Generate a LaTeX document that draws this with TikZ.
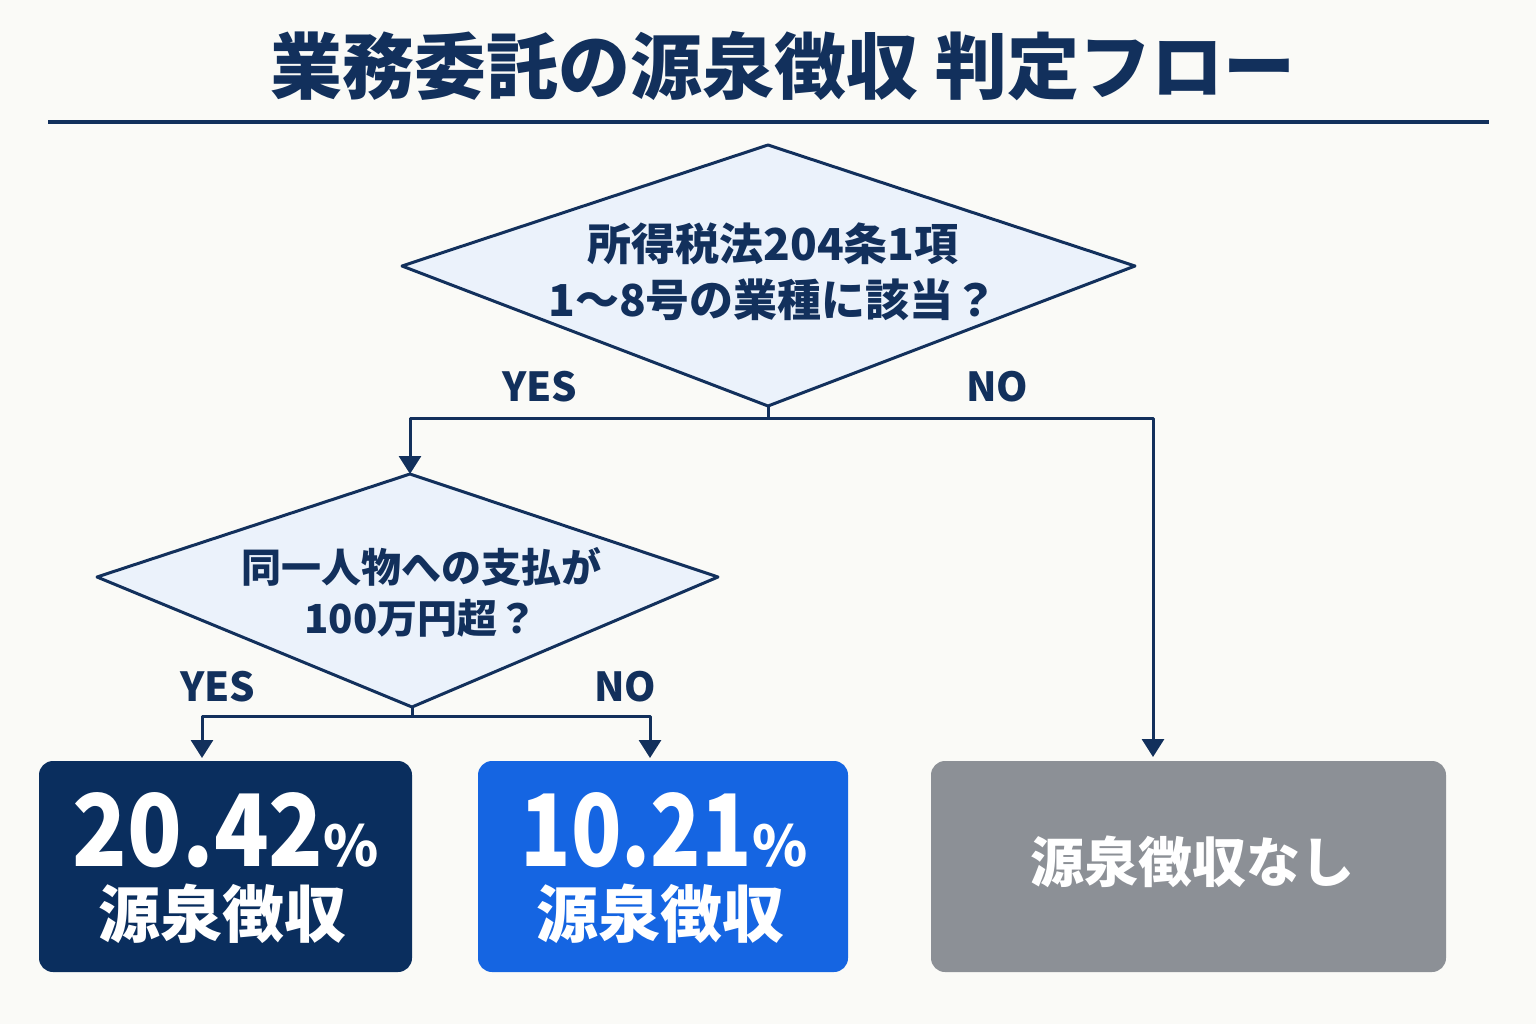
\documentclass[tikz,border=0pt]{standalone}
\usepackage{fontspec}
\setmainfont{Noto Sans CJK JP}
\usetikzlibrary{arrows.meta}
\definecolor{bgc}{HTML}{FAFAF7}
\definecolor{navy}{HTML}{12305C}
\definecolor{dfill}{HTML}{EBF2FB}
\definecolor{boxnavy}{HTML}{0A2E5E}
\definecolor{boxblue}{HTML}{1565E2}
\definecolor{boxgray}{HTML}{8C9096}
\tikzset{
  decision/.style={draw=navy,fill=dfill,line width=3pt,line join=round},
  qtext/.style={text=navy,font=\bfseries\fontsize{44}{56}\selectfont,align=center},
  yn/.style={text=navy,font=\bfseries\fontsize{40}{40}\selectfont},
  result/.style={rounded corners=14pt,inner sep=0pt},
  conn/.style={draw=navy,line width=3pt,line join=round},
  arr/.style={conn,-{Triangle[width=22pt,length=18pt]}},
  bignum/.style={text=white,font=\bfseries\fontsize{100}{100}\selectfont,inner sep=0pt},
  subtext/.style={text=white,font=\bfseries\fontsize{62}{62}\selectfont,inner sep=0pt},
}
\begin{document}
\begin{tikzpicture}[x=1pt,y=-1pt]
\fill[bgc] (0,0) rectangle (1536,1024);
\useasboundingbox (0,0) rectangle (1536,1024);
% title
\node[text=navy,font=\bfseries\fontsize{72}{72}\selectfont] (title) at (783,66) {業務委託の源泉徴収 判定フロー};
\coordinate (rl) at (48,122);
\coordinate (rr) at (1489,122);
\draw[navy,line width=3.5pt] (rl) -- (rr);
% decision 1
\coordinate (d1top) at (768,145);
\coordinate (d1left) at (402,266);
\coordinate (d1right) at (1135,266);
\coordinate (d1bot) at (768,406);
\path[decision] (d1top) -- (d1right) -- (d1bot) -- (d1left) -- cycle;
\node[qtext] (d1t) at (773,272) {所得税法204条1項\\1～8号の業種に該当？};
% decision 2
\coordinate (d2top) at (410,474);
\coordinate (d2left) at (97,577);
\coordinate (d2right) at (718,577);
\coordinate (d2bot) at (412,707);
\path[decision] (d2top) -- (d2right) -- (d2bot) -- (d2left) -- cycle;
\node[qtext,font=\bfseries\fontsize{40}{51}\selectfont] (d2t) at (421,592) {同一人物への支払が\\100万円超？};
% result boxes
\node[result,fill=boxnavy,minimum width=373pt,minimum height=211pt] (r1) at (225.5,866.5) {};
\node[result,fill=boxblue,minimum width=370pt,minimum height=211pt] (r2) at (663,866.5) {};
\node[result,fill=boxgray,minimum width=515pt,minimum height=211pt] (r3) at (1188.5,866.5) {};
\node[bignum] (r1a) at (226,830) {\scalebox{0.9}[1]{20.42}{\fontsize{56}{56}\selectfont\%}};
\node[subtext] (r1b) at (222,914) {源泉徴収};
\node[bignum] (r2a) at (664,830) {\scalebox{0.83}[1]{10.21}{\fontsize{56}{56}\selectfont\%}};
\node[subtext] (r2b) at (660,914) {源泉徴収};
\node[text=white,font=\bfseries\fontsize{54}{54}\selectfont,inner sep=0pt] (r3a) at (1192,862) {源泉徴収なし};
% connectors level 1
\coordinate (j1) at (768,418);
\coordinate (a1) at (1153,757);
\draw[conn] (d1bot) -- (j1);
\draw[arr] (j1) -- (410,418) -- (d2top);
\draw[arr] (j1) -- (1153,418) -- (a1);
\node[yn] (y1) at (540,387) {YES};
\node[yn] (n1) at (997,387) {NO};
% connectors level 2
\coordinate (j2) at (412,716);
\coordinate (a2) at (202,758);
\coordinate (a3) at (650,758);
\draw[conn] (d2bot) -- (j2);
\draw[arr] (j2) -- (202,716) -- (a2);
\draw[arr] (j2) -- (650,716) -- (a3);
\node[yn] (y2) at (218,687) {YES};
\node[yn] (n2) at (625,687) {NO};
\end{tikzpicture}
\end{document}
